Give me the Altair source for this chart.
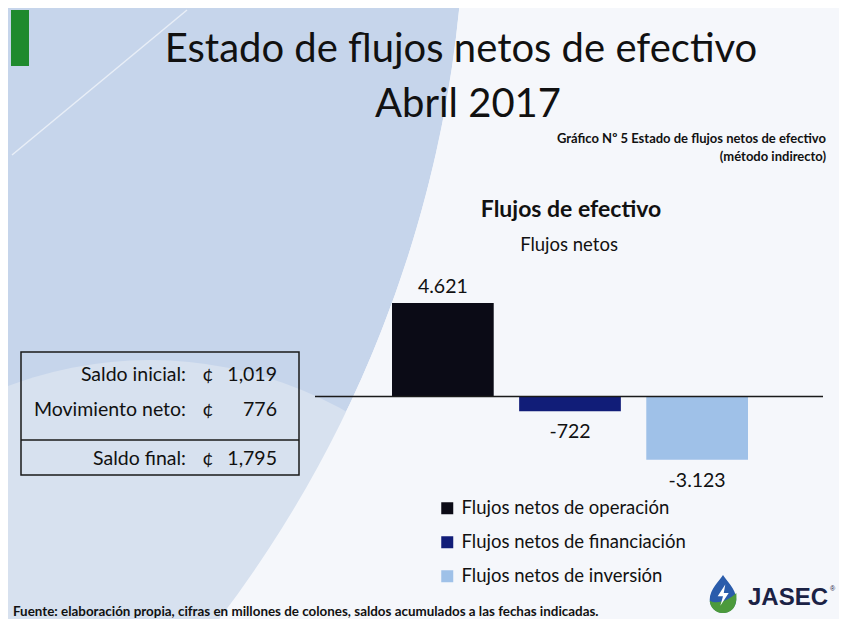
import altair as alt
import pandas as pd

# ---------------- data ----------------
series = ["Flujos netos de operación", "Flujos netos de financiación", "Flujos netos de inversión"]
values = [4621, -722, -3123]
bar_colors = ["#0b0b16", "#111d78", "#9fc1e8"]

box_labels = ["Saldo inicial:", "Movimiento neto:", "Saldo final:"]
box_values = [1019, 776, 1795]
currency = "¢"

title_lines = ["Estado de flujos netos de efectivo", "Abril 2017"]
subtitle_lines = ["Gráfico Nº 5 Estado de flujos netos de efectivo", "(método indirecto)"]
chart_title = "Flujos de efectivo"
chart_subtitle = "Flujos netos"
footer = "Fuente: elaboración propia, cifras en millones de colones, saldos acumulados a las fechas indicadas."
brand = "JASEC"

# ---------------- layout / style ----------------
W, H = 831, 611
FONT = "Lato"
TXT = "#111111"
BG = "#f5f7fb"

df = pd.DataFrame({
    "serie": series,
    "valor": values,
    "etiqueta": [f"{v:,}".replace(",", ".") for v in values],
})
one = pd.DataFrame({"k": [0]})
zero_df = pd.DataFrame({"valor": [0]})

x_enc = alt.X("serie:N", sort=series,
              scale=alt.Scale(range=[384, 740], paddingInner=0.2, paddingOuter=0),
              axis=None)
y_enc = alt.Y("valor:Q", scale=alt.Scale(domain=[-10990, 19200], nice=False),
              axis=None)


def txt(s, x, y, size, weight="normal", align="center", color=TXT, font=FONT):
    return alt.Chart(one).mark_text(
        text=s, fontSize=size, fontWeight=weight, align=align,
        baseline="alphabetic", font=font, color=color
    ).encode(x=alt.value(x), y=alt.value(y))


def disc(cx, cy, r, color, filled=True, stroke_w=0):
    mk = dict(shape="circle", size=(2 * r) ** 2, opacity=1, clip=True)
    if filled:
        mk.update(filled=True, color=color)
    else:
        mk.update(filled=False, color=color, strokeWidth=stroke_w)
    return alt.Chart(one).mark_point(**mk).encode(x=alt.value(cx), y=alt.value(cy))


layers = []

# background shapes (big blue curve, paler lower-left area, outside masked to background)
layers.append(disc(-747, -118, 1204, "#c6d5eb"))
layers.append(disc(142, 752, 400, "#d7e1ef"))
layers.append(disc(-747, -118, 1204 + 1500, BG, filled=False, stroke_w=3000))
layers.append(alt.Chart(one).mark_rule(color="white", strokeWidth=1.5, opacity=0.6).encode(
    x=alt.value(4), y=alt.value(147), x2=alt.value(179), y2=alt.value(2)))
layers.append(alt.Chart(one).mark_rect(color="#1f8a2e").encode(
    x=alt.value(3), x2=alt.value(21), y=alt.value(2), y2=alt.value(58)))

# titles
layers.append(txt(title_lines[0], 453, 54, 40))
layers.append(txt(title_lines[1], 460, 109, 40))
layers.append(txt(subtitle_lines[0], 818, 135, 13, weight="bold", align="right"))
layers.append(txt(subtitle_lines[1], 818, 153, 13, weight="bold", align="right"))
layers.append(txt(chart_title, 563, 209, 23, weight="bold"))
layers.append(txt(chart_subtitle, 561, 243, 18.5))

# bars
bars = alt.Chart(df).mark_bar().encode(
    x=x_enc, y=y_enc,
    color=alt.Color("serie:N", sort=series,
                    scale=alt.Scale(domain=series, range=bar_colors),
                    legend=alt.Legend(title=None, orient="none", legendX=430, legendY=491,
                                      symbolType="square", symbolSize=144,
                                      symbolStrokeWidth=0, symbolOpacity=1,
                                      labelFont=FONT, labelFontSize=18.5, labelColor=TXT,
                                      rowPadding=15, labelOffset=5, padding=0,
                                      labelLimit=400)),
)
layers.append(bars)

layers.append(alt.Chart(zero_df).mark_rule(color="#1a1a1a", strokeWidth=1.5).encode(
    x=alt.value(307), x2=alt.value(815), y=y_enc))

pos_lab = alt.Chart(df).transform_filter("datum.valor >= 0").mark_text(
    font=FONT, fontSize=19.5, baseline="alphabetic", dy=-10, color=TXT
).encode(x=x_enc, y=y_enc, text="etiqueta:N")
neg_lab = alt.Chart(df).transform_filter("datum.valor < 0").mark_text(
    font=FONT, fontSize=19.5, baseline="alphabetic", dy=27, color=TXT
).encode(x=x_enc, y=y_enc, text="etiqueta:N")
layers += [pos_lab, neg_lab]

# balance box
layers.append(alt.Chart(one).mark_rect(fillOpacity=0, stroke="#1a1a1a", strokeWidth=1.5).encode(
    x=alt.value(13), x2=alt.value(291), y=alt.value(344), y2=alt.value(467)))
layers.append(alt.Chart(one).mark_rule(color="#1a1a1a", strokeWidth=1.5).encode(
    x=alt.value(13), x2=alt.value(291), y=alt.value(432)))
row_y = [373, 408, 457]
for lab, val, yy in zip(box_labels, box_values, row_y):
    layers.append(txt(lab, 178, yy, 19.5, align="right"))
    layers.append(txt(currency, 200, yy, 19.5))
    layers.append(txt(f"{val:,}", 269, yy, 19.5, align="right"))

# logo
drop = "M0,-1 C0.15,-0.75 0.7,-0.25 0.7,0.3 C0.7,0.7 0.35,1 0,1 C-0.35,1 -0.7,0.7 -0.7,0.3 C-0.7,-0.25 -0.15,-0.75 0,-1 Z"
leaf = "M0.7,-0.05 C0.72,0.2 0.72,0.5 0.55,0.75 C0.35,1 0.1,1 -0.05,1 C-0.4,0.98 -0.68,0.7 -0.7,0.35 C-0.3,0.55 0.3,0.35 0.7,-0.05 Z"
bolt = "M0.12,-0.5 L-0.28,0.12 L0,0.12 L-0.14,0.62 L0.3,-0.05 L0.04,-0.05 Z"
layers.append(alt.Chart(one).mark_point(shape=drop, filled=True, size=1444, color="#2a5cab", opacity=1)
              .encode(x=alt.value(715), y=alt.value(586)))
layers.append(alt.Chart(one).mark_point(shape=leaf, filled=True, size=1444, color="#4c9a3c", opacity=1)
              .encode(x=alt.value(715), y=alt.value(586)))
layers.append(alt.Chart(one).mark_point(shape=bolt, filled=True, size=1444, color="white", opacity=1)
              .encode(x=alt.value(715), y=alt.value(586)))
layers.append(txt(brand, 740, 597, 24, weight="bold", align="left", color="#1b2245",
                  font="Liberation Sans"))
layers.append(txt("®", 822, 583, 7, align="left", color="#1b2245", font="Liberation Sans"))

# footer
layers.append(txt(footer, 5, 608, 13.4, weight="bold", align="left"))

chart = alt.layer(*layers).properties(
    width=W, height=H, padding=0,
    autosize=alt.AutoSizeParams(type="none"),
    background=BG,
).configure_view(strokeWidth=0)

chart.save("out.html", embed_options={"renderer": "svg", "actions": False})
